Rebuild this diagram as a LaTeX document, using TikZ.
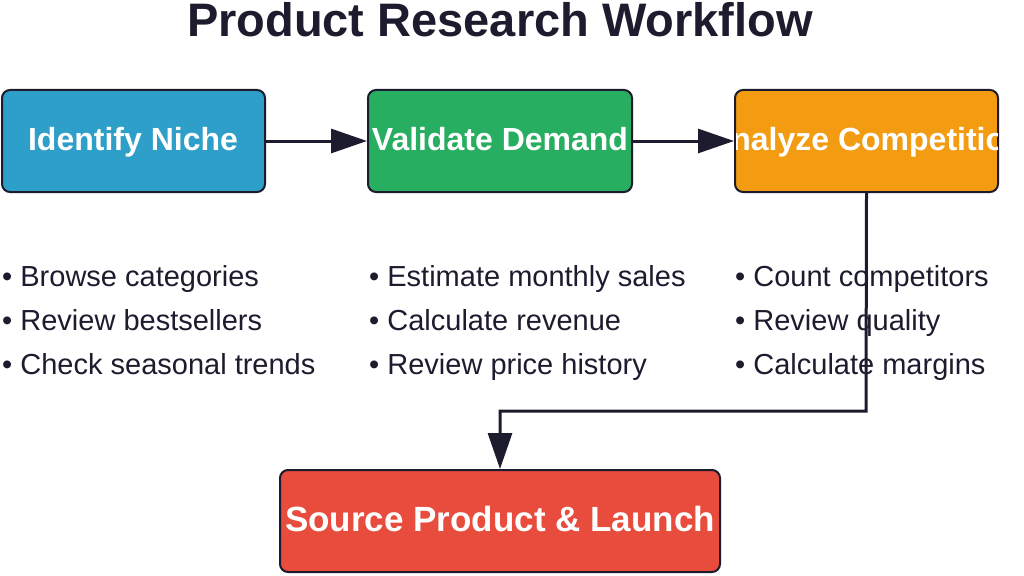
\documentclass[tikz,border=0pt]{standalone}
\usepackage{fontspec}
\setmainfont{Liberation Sans}
\usetikzlibrary{arrows.meta}
\definecolor{ink}{HTML}{1C1C2E}
\definecolor{cblue}{HTML}{2E9FC9}
\definecolor{cgreen}{HTML}{27AE60}
\definecolor{corange}{HTML}{F39C12}
\definecolor{cred}{HTML}{E74C3C}
\tikzset{
 stepbox/.style={draw=ink, line width=2pt, rounded corners=8pt, minimum height=102pt, inner sep=0pt, text=white, font=\fontsize{32}{36}\selectfont\bfseries},
 steptext/.style={text=white, font=\fontsize{32}{36}\selectfont\bfseries, inner sep=0pt, text height=23pt, text depth=7pt},
 bul/.style={anchor=west, text=ink, font=\fontsize{29}{32}\selectfont, inner sep=0pt, text height=21pt, text depth=6pt},
 conn/.style={draw=ink, line width=3pt, -{Triangle[length=36pt,width=24pt]}}
}
\begin{document}
\begin{tikzpicture}[x=1pt,y=-1pt]
\useasboundingbox (0,0) rectangle (1024,575);
\node[font=\fontsize{47}{50}\selectfont\bfseries, text=ink] (title) at (500,20) {Product Research Workflow};
\node[stepbox, fill=cblue, minimum width=263pt] (n1) at (133.5,141) {};
\node[steptext] (n1t) at (133,142) {Identify Niche};
\node[stepbox, fill=cgreen, minimum width=264pt] (n2) at (500,141) {};
\node[steptext] (n2t) at (500,142) {Validate Demand};
\node[stepbox, fill=corange, minimum width=263pt] (n3) at (866.5,141) {};
\begin{scope}
\clip[rounded corners=8pt] (736,91) rectangle (997,191);
\node[steptext] (n3t) at (866.5,142) {Analyze Competition};
\end{scope}
\node[stepbox, fill=cred, minimum width=440pt] (n4) at (500,521) {};
\node[steptext, font=\fontsize{35}{38}\selectfont\bfseries] (n4t) at (500,523) {Source Product \& Launch};
\node[bul] (a1) at (2,279) {• Browse categories};
\node[bul] (a2) at (2,323) {• Review bestsellers};
\node[bul] (a3) at (2,367) {• Check seasonal trends};
\node[bul] (b1) at (369,279) {• Estimate monthly sales};
\node[bul] (b2) at (369,323) {• Calculate revenue};
\node[bul] (b3) at (369,367) {• Review price history};
\node[bul] (c1) at (735,279) {• Count competitors};
\node[bul] (c2) at (735,323) {• Review quality};
\node[bul] (c3) at (735,367) {• Calculate margins};
\draw[conn] (n1.east) -- (n2.west);
\draw[conn] (n2.east) -- (n3.west);
\coordinate (k1) at (866,411);
\coordinate (k2) at (500,411);
\draw[conn] (n3.south) -- (k1) -- (k2) -- (n4.north);
\end{tikzpicture}
\end{document}
